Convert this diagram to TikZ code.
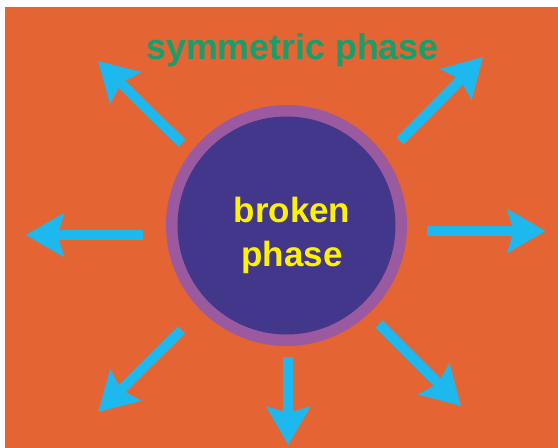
\documentclass[tikz,border=0pt]{standalone}
\usepackage{fontspec}
\setmainfont{Liberation Sans}
\usetikzlibrary{arrows.meta}
\definecolor{bgorange}{RGB}{228,101,51}
\definecolor{ringpurple}{RGB}{155,90,160}
\definecolor{corepurple}{RGB}{66,55,138}
\definecolor{rayblue}{RGB}{29,184,238}
\definecolor{phaseyellow}{RGB}{255,242,0}
\definecolor{symgreen}{RGB}{22,158,108}
\begin{document}
\begin{tikzpicture}[x=1pt,y=-1pt,
  ray/.style={draw=rayblue, line width=10pt,
    -{Stealth[length=38pt,width=43pt,inset=6pt]}},
  bigtext/.style={font=\bfseries\fontsize{35}{44}\selectfont, anchor=base, inner sep=0pt}]
\useasboundingbox (0,0) rectangle (558,448);
\fill[white] (0,0) rectangle (558,448);
\fill[bgorange] (5,7) rectangle (558,448);
\node[circle, fill=ringpurple, minimum size=241pt, inner sep=0pt] (ring) at (286.5,225.5) {};
\node[circle, fill=corepurple, minimum size=218pt, inner sep=0pt] (core) at (286.5,225.5) {};
\node[bigtext, text=phaseyellow] (broken) at (292,222) {broken};
\node[bigtext, text=phaseyellow] (phase) at (292,266) {phase};
\node[bigtext, text=symgreen, font=\bfseries\fontsize{35.8}{44}\selectfont] (sym) at (292.5,59) {symmetric phase};
% ray ends
\coordinate (nwS) at (182,143);  \coordinate (nwE) at (98,61);
\coordinate (neS) at (400,141);  \coordinate (neE) at (483,57);
\coordinate (wS) at (143,235);   \coordinate (wE) at (25.7,235);
\coordinate (eS) at (427,231);   \coordinate (eE) at (545.7,231);
\coordinate (swS) at (181.7,330); \coordinate (swE) at (98.3,412);
\coordinate (seS) at (379,324);  \coordinate (seE) at (461,406);
\coordinate (sS) at (288.3,356.7); \coordinate (sE) at (288.3,445);
\draw[ray] (nwS) -- (nwE);
\draw[ray] (neS) -- (neE);
\draw[ray] (wS) -- (wE);
\draw[ray] (eS) -- (eE);
\draw[ray] (swS) -- (swE);
\draw[ray] (seS) -- (seE);
\draw[ray] (sS) -- (sE);
\end{tikzpicture}
\end{document}
